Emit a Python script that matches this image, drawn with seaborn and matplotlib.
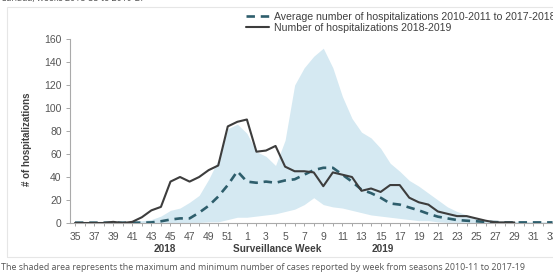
import matplotlib
matplotlib.use('Agg')
import matplotlib.pyplot as plt
import matplotlib.patches as mpatches
import numpy as np
import pandas as pd
import seaborn as sns

# surveillance weeks 2018-35 .. 2019-33
weeks = list(range(35, 53)) + list(range(1, 34))

hosp_2018_19 = [0, 0, 0, 0, 1, 0, 1, 5, 11, 14, 36, 40, 36, 40, 46, 50, 84, 88,
                90, 62, 63, 67, 49, 45, 45, 44, 32, 44, 42, 40, 28, 30, 27, 33, 33,
                22, 18, 16, 10, 8, 6, 6, 4, 2, 0.5, 0.5, 0.5,
                np.nan, np.nan, np.nan, np.nan]

avg_hosp = [0.3, 0.3, 0.3, 0.3, 0.3, 0.3, 0.3, 0.3, 0.5, 1.5, 3, 4, 4, 9, 15, 23, 33, 45,
            36, 35, 36, 35, 37, 38, 42, 46, 48, 48, 42, 36, 29, 26, 22, 17, 16,
            13.5, 11, 8, 5.5, 4, 2.6, 2, 1.5, 1, 0.8, 0.5, 0.5, 0.5, 0.5, 0.5, 0.5]

band_max = [1, 1, 1, 1, 1, 1, 1.5, 2, 3, 6, 11, 13, 18, 24, 38, 55, 82, 86,
            78, 62, 58, 50, 72, 120, 135, 145, 152, 135, 110, 91, 79, 74, 65, 52, 45,
            37, 32, 26, 20, 14, 10, 7, 4, 3, 2, 2, 1.5, 1.5, 1, 1, 1]

band_min = [0, 0, 0, 0, 0, 0, 0, 0, 0, 0, 0, 0, 0.5, 0.5, 1, 1, 3, 5,
            5, 6, 7, 8, 10, 12, 16, 22, 16, 14, 13, 11, 9, 7, 6, 5, 4,
            3, 2, 2, 1, 0.5, 0.5, 0.5, 0, 0, 0, 0, 0, 0, 0, 0, 0]

df = pd.DataFrame({'idx': np.arange(len(weeks)), 'week': weeks,
                   'current': hosp_2018_19, 'avg': avg_hosp,
                   'hi': band_max, 'lo': band_min})

sns.set_style('white')
plt.rcParams['font.family'] = ['Liberation Sans', 'DejaVu Sans']

W, H = 553, 275
fig = plt.figure(figsize=(W / 100, H / 100), dpi=100)
ax = fig.add_axes([70 / W, 52 / H, 483 / W, 184 / H])

# light frame around the chart
fig.patches.append(mpatches.Rectangle((7 / W, 18 / H), 1.0, 250 / H, transform=fig.transFigure,
                                      fill=False, edgecolor='#e6e6e6', linewidth=0.8))

ax.fill_between(df['idx'], df['lo'], df['hi'], color='#d5e9f2', linewidth=0, zorder=1)
sns.lineplot(data=df, x='idx', y='avg', ax=ax, color='#2e5e6c', linewidth=1.9,
             dashes=False, linestyle=(0, (3.2, 2.2)),
             label='Average number of hospitalizations 2010-2011 to 2017-2018', zorder=3)
sns.lineplot(data=df, x='idx', y='current', ax=ax, color='#3d3d3d', linewidth=1.5,
             label='Number of hospitalizations 2018-2019', zorder=4)

ax.set_xlim(-0.52, 50.05)
ax.set_ylim(0, 160)
ax.set_yticks(range(0, 161, 20))
ax.set_xticks(df['idx'][::2])
ax.set_xticklabels([str(w) for w in weeks[::2]])
ax.set_xticks(df['idx'], minor=True)
ax.tick_params(axis='both', which='both', direction='out', color='#999999',
               labelcolor='#555555', labelsize=7.5)
ax.tick_params(axis='x', which='both', length=2.5, width=0.6, pad=4, bottom=True)
ax.tick_params(axis='y', length=3, width=0.6, pad=3, left=True)
ax.set_xlabel('')
ax.set_ylabel('')
for s in ['top', 'right']:
    ax.spines[s].set_visible(False)
for s in ['left', 'bottom']:
    ax.spines[s].set_color('#aaaaaa')
    ax.spines[s].set_linewidth(0.8)

leg = ax.legend(loc='upper left', bbox_to_anchor=(246 / W, 1 - 12 / H),
                bbox_transform=fig.transFigure, frameon=False, fontsize=7.6,
                handlelength=2.2, handletextpad=0.5, labelspacing=0.05,
                borderpad=0, borderaxespad=0)
for t in leg.get_texts():
    t.set_color('#404040')

fig.text(27 / W, (H - 139) / H, '# of hospitalizations', rotation=90, ha='center', va='center',
         fontsize=7, fontweight='bold', color='#404040')
fig.text(165 / W, 26 / H, '2018', ha='center', va='center', fontsize=7.2,
         fontweight='bold', color='#404040')
fig.text(277 / W, 26 / H, 'Surveillance Week', ha='center', va='center', fontsize=7.2,
         fontweight='bold', color='#404040')
fig.text(383 / W, 26 / H, '2019', ha='center', va='center', fontsize=7.2,
         fontweight='bold', color='#404040')

fig.text(1 / W, 7 / H, 'The shaded area represents the maximum and minimum number of cases reported '
         'by week from seasons 2010-11 to 2017-19', ha='left', va='center', fontsize=6.4,
         family=['Open Sans', 'DejaVu Sans'], color='#555555')
fig.text(1 / W, 1.0 + 1.5 / H, 'Canada, weeks 2018-35 to 2019-27', ha='left', va='center', fontsize=6.4,
         family=['Open Sans', 'DejaVu Sans'], color='#555555')

fig.savefig('out.png', dpi=100)
